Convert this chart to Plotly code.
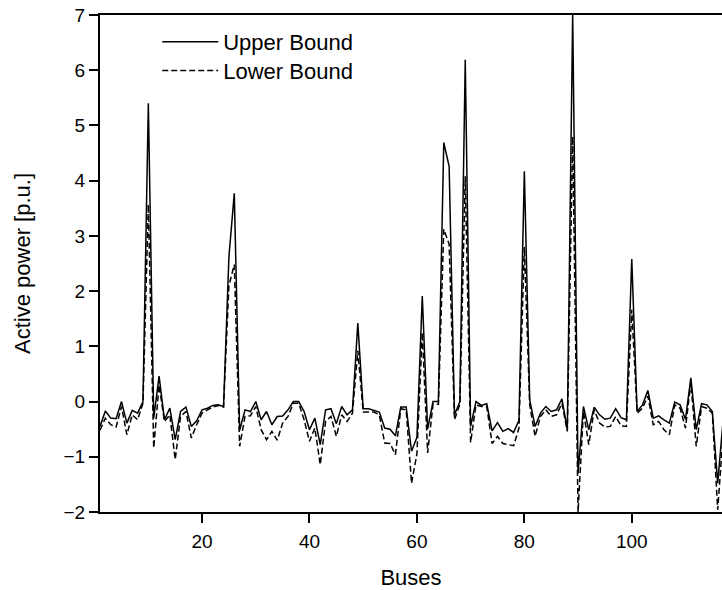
import plotly.graph_objects as go

buses = list(range(1, 119))

upper_bound = [
    -0.45, -0.17, -0.30, -0.31, 0.00, -0.39, -0.16, -0.21, 0.00, 5.40,
    -0.30, 0.46, -0.33, -0.12, -0.69, -0.18, -0.10, -0.45, -0.35, -0.15,
    -0.12, -0.07, -0.06, -0.09, 2.62, 3.77, -0.52, -0.15, -0.18, 0.00,
    -0.33, -0.18, -0.42, -0.27, -0.26, -0.15, 0.00, 0.00, -0.18, -0.51,
    -0.30, -0.78, -0.15, -0.13, -0.40, -0.09, -0.24, -0.15, 1.42, -0.13,
    -0.13, -0.16, -0.19, -0.48, -0.50, -0.62, -0.10, -0.10, -0.90, -0.65,
    1.91, -0.50, 0.00, 0.00, 4.69, 4.26, -0.24, 0.00, 6.19, -0.45,
    0.00, -0.07, -0.04, -0.53, -0.38, -0.54, -0.49, -0.56, -0.34, 4.17,
    0.03, -0.45, -0.21, -0.09, -0.18, -0.15, 0.05, -0.51, 7.00, -1.30,
    -0.09, -0.51, -0.10, -0.24, -0.32, -0.30, -0.13, -0.29, -0.33, 2.58,
    -0.18, -0.06, 0.20, -0.30, -0.26, -0.33, -0.39, -0.01, -0.06, -0.32,
    0.43, -0.51, -0.04, -0.06, -0.18, -1.48, -0.35, -0.10,
]

lower_bound = [
    -0.52, -0.30, -0.42, -0.46, -0.09, -0.60, -0.24, -0.33, -0.03, 3.57,
    -0.84, 0.30, -0.36, -0.24, -1.05, -0.27, -0.18, -0.66, -0.42, -0.21,
    -0.15, -0.10, -0.07, -0.10, 2.10, 2.48, -0.81, -0.27, -0.26, -0.09,
    -0.51, -0.69, -0.54, -0.70, -0.39, -0.27, -0.03, -0.03, -0.33, -0.72,
    -0.48, -1.14, -0.36, -0.27, -0.63, -0.24, -0.36, -0.21, 0.92, -0.19,
    -0.19, -0.19, -0.24, -0.75, -0.76, -0.96, -0.13, -0.15, -1.48, -0.95,
    1.25, -0.93, -0.05, -0.05, 3.12, 2.85, -0.33, -0.05, 4.08, -0.74,
    -0.06, -0.09, -0.09, -0.76, -0.63, -0.76, -0.78, -0.80, -0.48, 2.80,
    -0.06, -0.63, -0.27, -0.15, -0.27, -0.24, -0.03, -0.54, 4.80, -2.00,
    -0.18, -0.78, -0.15, -0.39, -0.46, -0.45, -0.27, -0.44, -0.45, 1.66,
    -0.21, -0.12, 0.10, -0.42, -0.36, -0.51, -0.60, -0.06, -0.12, -0.48,
    0.34, -0.81, -0.09, -0.12, -0.21, -1.96, -0.60, -0.30,
]

x_ticks = [20, 40, 60, 80, 100]
y_ticks = [-2, -1, 0, 1, 2, 3, 4, 5, 6, 7]

FONT = "Liberation Sans, Arial, sans-serif"

fig = go.Figure()
fig.add_trace(go.Scatter(
    x=buses, y=upper_bound, mode="lines", name="Upper Bound",
    line=dict(color="black", width=1.5), legend="legend",
))
fig.add_trace(go.Scatter(
    x=buses, y=lower_bound, mode="lines", name="Lower Bound",
    line=dict(color="black", width=1.5, dash="6px,3px"), legend="legend2",
))

legend_style = dict(
    xanchor="left", yanchor="top",
    bgcolor="rgba(0,0,0,0)", borderwidth=0,
    font=dict(family=FONT, size=22, color="black"),
    tracegroupgap=0, itemwidth=56,
)

fig.update_layout(
    width=722, height=590,
    margin=dict(l=100, r=0, t=15, b=78),
    paper_bgcolor="white", plot_bgcolor="white",
    font=dict(family=FONT, color="black", size=19),
    showlegend=True,
    legend=dict(x=0.092, y=0.988, **legend_style),
    legend2=dict(x=0.092, y=0.930, **legend_style),
    xaxis=dict(
        range=[1, 116.8], tickvals=x_ticks,
        showgrid=False, zeroline=False,
        showline=True, linecolor="black", linewidth=2, mirror=True,
        ticks="outside", ticklen=9, tickwidth=2, tickcolor="black",
        tickfont=dict(size=19), ticklabelstandoff=2,
        title=dict(text="Buses", font=dict(size=22), standoff=22),
    ),
    yaxis=dict(
        range=[-2, 7], tickvals=y_ticks,
        showgrid=False, zeroline=False,
        showline=True, linecolor="black", linewidth=2, mirror=False,
        ticks="outside", ticklen=9, tickwidth=2, tickcolor="black",
        tickfont=dict(size=19),
        title=dict(text="Active power [p.u.]", font=dict(size=22), standoff=27),
    ),
)

fig.write_html("out.html")
